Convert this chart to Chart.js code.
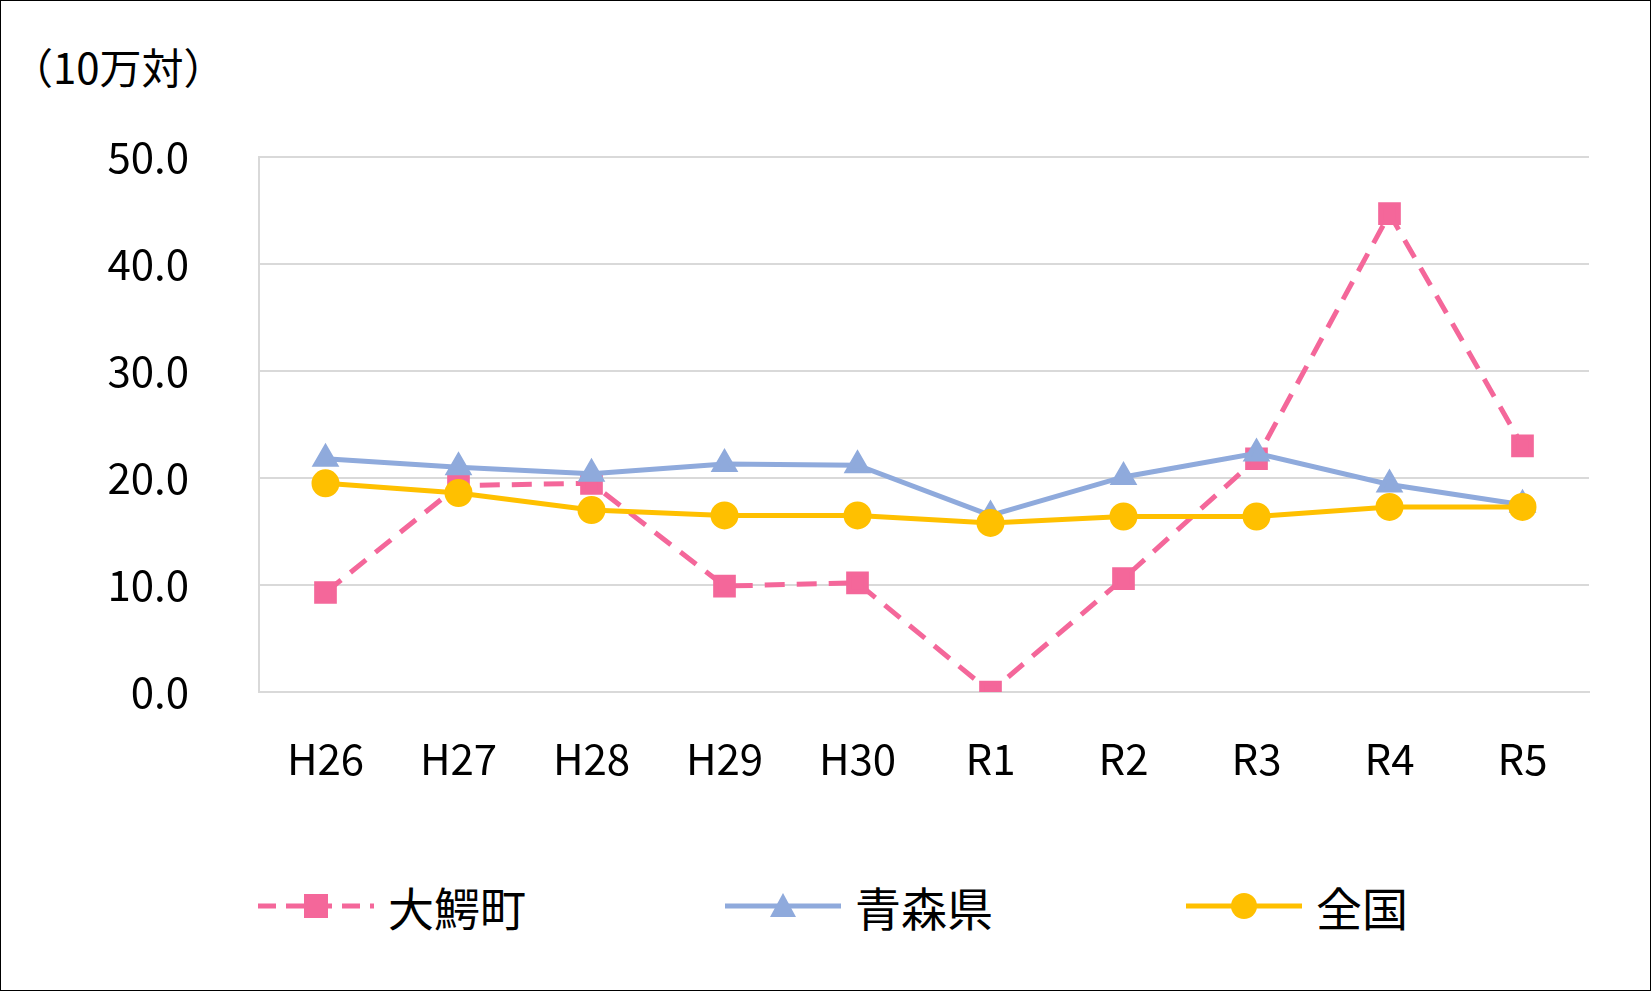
<!DOCTYPE html>
<html><head><meta charset="utf-8">
<script src="https://cdn.jsdelivr.net/npm/chart.js@4"></script>
<style>
body{margin:0;background:#fff;font-family:"Noto Sans CJK JP",sans-serif}
#wrap{position:absolute;left:0;top:0;width:1649px;height:989px;border:1px solid #000;overflow:hidden}
#unit{position:absolute;left:10px;top:34px;font-size:42px;color:#000}
#box{position:absolute;left:0;top:0;width:1649px;height:810px}
#legend{position:absolute;top:872px;left:0;width:1649px;height:70px}
.li{position:absolute;display:flex;align-items:center;font-size:46px}
.li svg{margin-right:12px}
</style></head><body>
<div id="wrap">
<div id="unit">（10万対）</div>
<div id="box"><canvas id="c"></canvas></div>
<div id="legend">
 <div class="li" style="left:255px"><svg width="120" height="40"><line x1="2" y1="20" x2="118" y2="20" stroke="#F4679A" stroke-width="5" stroke-dasharray="18,10"/><rect x="48" y="8" width="24" height="24" fill="#F4679A"/></svg>大鰐町</div>
 <div class="li" style="left:722px"><svg width="120" height="40"><line x1="2" y1="20" x2="118" y2="20" stroke="#8FAADC" stroke-width="5"/><polygon points="60,7 73,31 47,31" fill="#8FAADC"/></svg>青森県</div>
 <div class="li" style="left:1183px"><svg width="120" height="40"><line x1="2" y1="20" x2="118" y2="20" stroke="#FFC000" stroke-width="5"/><circle cx="60" cy="20" r="13" fill="#FFC000"/></svg>全国</div>
</div>
</div>
<script>
const years = ['H26','H27','H28','H29','H30','R1','R2','R3','R4','R5'];
const owani = [9.3, 19.3, 19.5, 9.9, 10.2, 0.0, 10.6, 21.8, 44.7, 23.0];
const aomori = [21.8, 21.0, 20.4, 21.3, 21.2, 16.5, 20.1, 22.3, 19.4, 17.5];
const zenkoku = [19.5, 18.6, 17.0, 16.5, 16.5, 15.8, 16.4, 16.4, 17.3, 17.3];

const tickFont = { size: 42, family: '"Noto Sans CJK JP", sans-serif' };

new Chart(document.getElementById('c'), {
  type: 'line',
  data: {
    labels: years,
    datasets: [
      { label: '全国', data: zenkoku, borderColor: '#FFC000', backgroundColor: '#FFC000',
        borderWidth: 5, pointStyle: 'circle', pointRadius: 11.5, order: 1 },
      { label: '青森県', data: aomori, borderColor: '#8FAADC', backgroundColor: '#8FAADC',
        borderWidth: 5, pointStyle: 'triangle', pointRadius: 11, order: 2 },
      { label: '大鰐町', data: owani, borderColor: '#F4679A', backgroundColor: '#F4679A',
        borderWidth: 5, borderDash: [20, 12], pointStyle: 'rect', pointRadius: 12.5, order: 3 }
    ]
  },
  options: {
    responsive: true,
    maintainAspectRatio: false,
    animation: false,
    layout: { padding: { top: 156, right: 61, left: 0, bottom: 0 } },
    scales: {
      x: {
        offset: true,
        grid: { display: false },
        border: { color: '#d9d9d9', width: 2 },
        ticks: { font: tickFont, color: '#000', padding: 34 },
        afterFit: s => { s.height = 119; }
      },
      y: {
        min: 0, max: 50,
        ticks: { stepSize: 10, font: tickFont, color: '#000', padding: 70,
          callback: v => v.toFixed(1) },
        grid: { color: '#d9d9d9', lineWidth: 2, drawTicks: false },
        border: { color: '#d9d9d9', width: 2 },
        afterFit: s => { s.width = 258; }
      }
    },
    plugins: { legend: { display: false }, tooltip: { enabled: false } }
  }
});
</script>
</body></html>
